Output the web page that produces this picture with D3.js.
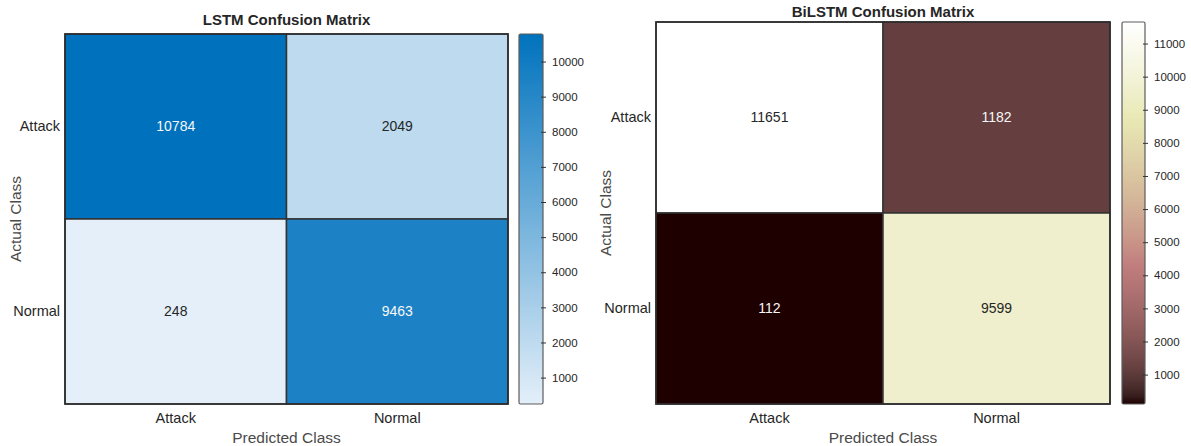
<!DOCTYPE html>
<html>
<head>
<meta charset="utf-8">
<script src="https://cdn.jsdelivr.net/npm/d3@7"></script>
<style>
  html, body { margin: 0; padding: 0; background: #fff; }
  svg { display: block; font-family: "Liberation Sans", Arial, Helvetica, sans-serif; }
</style>
</head>
<body>
<svg id="chart" width="1191" height="446"></svg>
<script>
// Class labels shared by both matrices (rows = actual, columns = predicted)
const classes = ["Attack", "Normal"];

// LSTM confusion counts
const lstmCounts = [
  [10784, 2049],
  [248, 9463]
];

// BiLSTM confusion counts
const bilstmCounts = [
  [11651, 1182],
  [112, 9599]
];

// Colorbar tick values
const lstmTicks = [1000, 2000, 3000, 4000, 5000, 6000, 7000, 8000, 9000, 10000];
const bilstmTicks = [1000, 2000, 3000, 4000, 5000, 6000, 7000, 8000, 9000, 10000, 11000];

// Light-to-blue ramp
const skyInterp = d3.interpolateRgb("#e4eff9", "#0072bd");

// Pink colormap: sqrt((2*gray + hot) / 3)
function pinkInterp(t) {
  const c = v => Math.max(0, Math.min(1, v));
  const hr = c(0.0417 + t * (1 - 0.0417) / 0.365079);
  const hg = c((t - 0.365079) / (0.746032 - 0.365079));
  const hb = c((t - 0.746032) / (1 - 0.746032));
  const f = h => Math.round(255 * Math.sqrt((2 * t + h) / 3));
  return `rgb(${f(hr)},${f(hg)},${f(hb)})`;
}

const panels = [
  {
    title: "LSTM Confusion Matrix", counts: lstmCounts, ticks: lstmTicks, interp: skyInterp,
    x0: 65, x1: 508, y0: 34, y1: 404, titleY: 25, cbX: 519, cbW: 24, yTitleX: 21
  },
  {
    title: "BiLSTM Confusion Matrix", counts: bilstmCounts, ticks: bilstmTicks, interp: pinkInterp,
    x0: 656, x1: 1110, y0: 22, y1: 404, titleY: 17, cbX: 1122, cbW: 23, yTitleX: 611
  }
];

const svg = d3.select("#chart");
const defs = svg.append("defs");

panels.forEach((p, pi) => {
  const g = svg.append("g");
  const flat = p.counts.flat();
  const vmin = d3.min(flat), vmax = d3.max(flat);
  const color = d3.scaleSequential(p.interp).domain([vmin, vmax]);

  const x = d3.scaleBand().domain(classes).range([p.x0, p.x1]);
  const y = d3.scaleBand().domain(classes).range([p.y0, p.y1]);

  const cells = [];
  classes.forEach((actual, i) => classes.forEach((pred, j) => {
    cells.push({ actual, pred, value: p.counts[i][j] });
  }));

  // Cells
  g.selectAll("rect.cell").data(cells).enter().append("rect")
    .attr("class", "cell")
    .attr("x", d => x(d.pred))
    .attr("y", d => y(d.actual))
    .attr("width", x.bandwidth())
    .attr("height", y.bandwidth())
    .attr("fill", d => color(d.value))
    .attr("stroke", "#333")
    .attr("stroke-width", 1.5);

  // Outer frame
  g.append("rect")
    .attr("x", p.x0).attr("y", p.y0)
    .attr("width", p.x1 - p.x0).attr("height", p.y1 - p.y0)
    .attr("fill", "none").attr("stroke", "#2b2b2b").attr("stroke-width", 1.5);

  // Cell values
  g.selectAll("text.val").data(cells).enter().append("text")
    .attr("class", "val")
    .attr("x", d => x(d.pred) + x.bandwidth() / 2)
    .attr("y", d => y(d.actual) + y.bandwidth() / 2)
    .attr("dy", "0.35em")
    .attr("text-anchor", "middle")
    .attr("font-size", 14)
    .attr("fill", d => {
      const c = d3.rgb(color(d.value));
      const lum = 0.299 * c.r + 0.587 * c.g + 0.114 * c.b;
      return lum < 150 ? "#f7f7f7" : "#262626";
    })
    .text(d => d.value);

  // Category axes (labels only)
  const xAxis = g.append("g")
    .attr("transform", `translate(0,${p.y1})`)
    .call(d3.axisBottom(x).tickSize(0).tickPadding(9));
  const yAxis = g.append("g")
    .attr("transform", `translate(${p.x0},0)`)
    .call(d3.axisLeft(y).tickSize(0).tickPadding(5));
  [xAxis, yAxis].forEach(a => {
    a.select(".domain").remove();
    a.selectAll("text").attr("font-size", 14.5).attr("fill", "#262626")
      .attr("font-family", "'Liberation Sans', Arial, sans-serif");
  });

  // Title
  g.append("text")
    .attr("x", (p.x0 + p.x1) / 2).attr("y", p.titleY)
    .attr("text-anchor", "middle")
    .attr("font-size", 15).attr("font-weight", "bold").attr("fill", "#262626")
    .text(p.title);

  // Axis titles
  g.append("text")
    .attr("x", (p.x0 + p.x1) / 2).attr("y", 443)
    .attr("text-anchor", "middle")
    .attr("font-size", 15.5).attr("fill", "#4a4a4a")
    .text("Predicted Class");
  g.append("text")
    .attr("transform", `translate(${p.yTitleX},${(p.y0 + p.y1) / 2}) rotate(-90)`)
    .attr("text-anchor", "middle")
    .attr("font-size", 15.5).attr("fill", "#4a4a4a")
    .text("Actual Class");

  // Colorbar
  const gradId = `grad${pi}`;
  const grad = defs.append("linearGradient").attr("id", gradId)
    .attr("x1", 0).attr("y1", 1).attr("x2", 0).attr("y2", 0);
  d3.range(0, 1.0001, 0.02).forEach(t => {
    grad.append("stop").attr("offset", t).attr("stop-color", p.interp(t));
  });
  const cb = d3.scaleLinear().domain([vmin, vmax]).range([p.y1, p.y0]);
  g.append("rect")
    .attr("x", p.cbX).attr("y", p.y0)
    .attr("width", p.cbW).attr("height", p.y1 - p.y0)
    .attr("rx", 1.5)
    .attr("fill", `url(#${gradId})`)
    .attr("stroke", "#5c5c5c").attr("stroke-width", 1.2);

  const cbAxis = g.append("g")
    .attr("transform", `translate(${p.cbX + p.cbW},0)`)
    .call(d3.axisRight(cb).tickValues(p.ticks).tickSize(3).tickPadding(6).tickFormat(d3.format("d")));
  cbAxis.select(".domain").remove();
  cbAxis.selectAll(".tick line").attr("x1", -2).attr("stroke", "#333");
  cbAxis.selectAll("text").attr("font-size", 11.5).attr("fill", "#262626")
    .attr("font-family", "'Liberation Sans', Arial, sans-serif");
});
</script>
</body>
</html>
